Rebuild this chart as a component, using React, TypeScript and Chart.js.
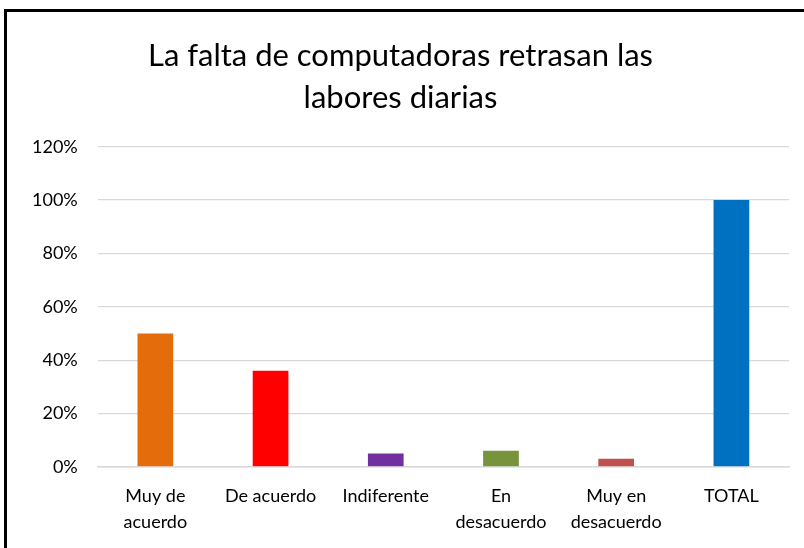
import React, { useEffect, useRef } from "react";
import { Chart, registerables } from "chart.js";

Chart.register(...registerables);

const categories: (string | string[])[] = [
  ["Muy de", "acuerdo"],
  "De acuerdo",
  "Indiferente",
  ["En", "desacuerdo"],
  ["Muy en", "desacuerdo"],
  "TOTAL",
];
const values = [0.5, 0.36, 0.05, 0.06, 0.03, 1.0];
const barColors = ["#E46C0A", "#FF0000", "#7030A0", "#77933C", "#C0504D", "#0070C0"];
const titleLines = ["La falta de computadoras retrasan las", "labores diarias"];
const FONT = "Lato, 'Open Sans', sans-serif";

const borderPlugin = {
  id: "frame",
  afterDraw(chart: any) {
    const ctx = chart.ctx;
    ctx.save();
    ctx.strokeStyle = "#000";
    ctx.lineWidth = 3;
    ctx.beginPath();
    ctx.moveTo(5.5, 548);
    ctx.lineTo(5.5, 10.5);
    ctx.lineTo(804, 10.5);
    ctx.stroke();
    ctx.restore();
  },
};

export default function App() {
  const ref = useRef<HTMLCanvasElement>(null);
  useEffect(() => {
    document.body.style.margin = "0";
    const chart = new Chart(ref.current!, {
      type: "bar",
      data: {
        labels: categories,
        datasets: [
          {
            data: values,
            backgroundColor: barColors,
            barPercentage: 0.31,
            categoryPercentage: 1,
          },
        ],
      },
      options: {
        animation: false,
        responsive: false,
        layout: { padding: { left: 12, right: 15, top: 20, bottom: 5 } },
        plugins: {
          legend: { display: false },
          tooltip: { enabled: false },
          title: {
            display: true,
            text: titleLines,
            color: "#000",
            font: { family: FONT, size: 31, weight: "normal", lineHeight: 1.35 },
            padding: { top: 15, bottom: 28 },
          },
        },
        scales: {
          x: {
            grid: { display: false },
            border: { display: true, color: "#d9d9d9", width: 1.5 },
            ticks: {
              color: "#000",
              font: { family: FONT, size: 18, lineHeight: 1.45 },
              maxRotation: 0,
              autoSkip: false,
              padding: 8,
            },
          },
          y: {
            min: 0,
            max: 1.2,
            grid: { color: "#d9d9d9", lineWidth: 1.2, drawTicks: false },
            border: { display: false },
            ticks: {
              stepSize: 0.2,
              color: "#000",
              font: { family: FONT, size: 18 },
              padding: 20,
              callback: (v: any) => Math.round(Number(v) * 100) + "%",
            },
          },
        },
      },
      plugins: [borderPlugin],
    });
    return () => chart.destroy();
  }, []);
  return <canvas ref={ref} width={804} height={548} style={{ display: "block" }} />;
}
